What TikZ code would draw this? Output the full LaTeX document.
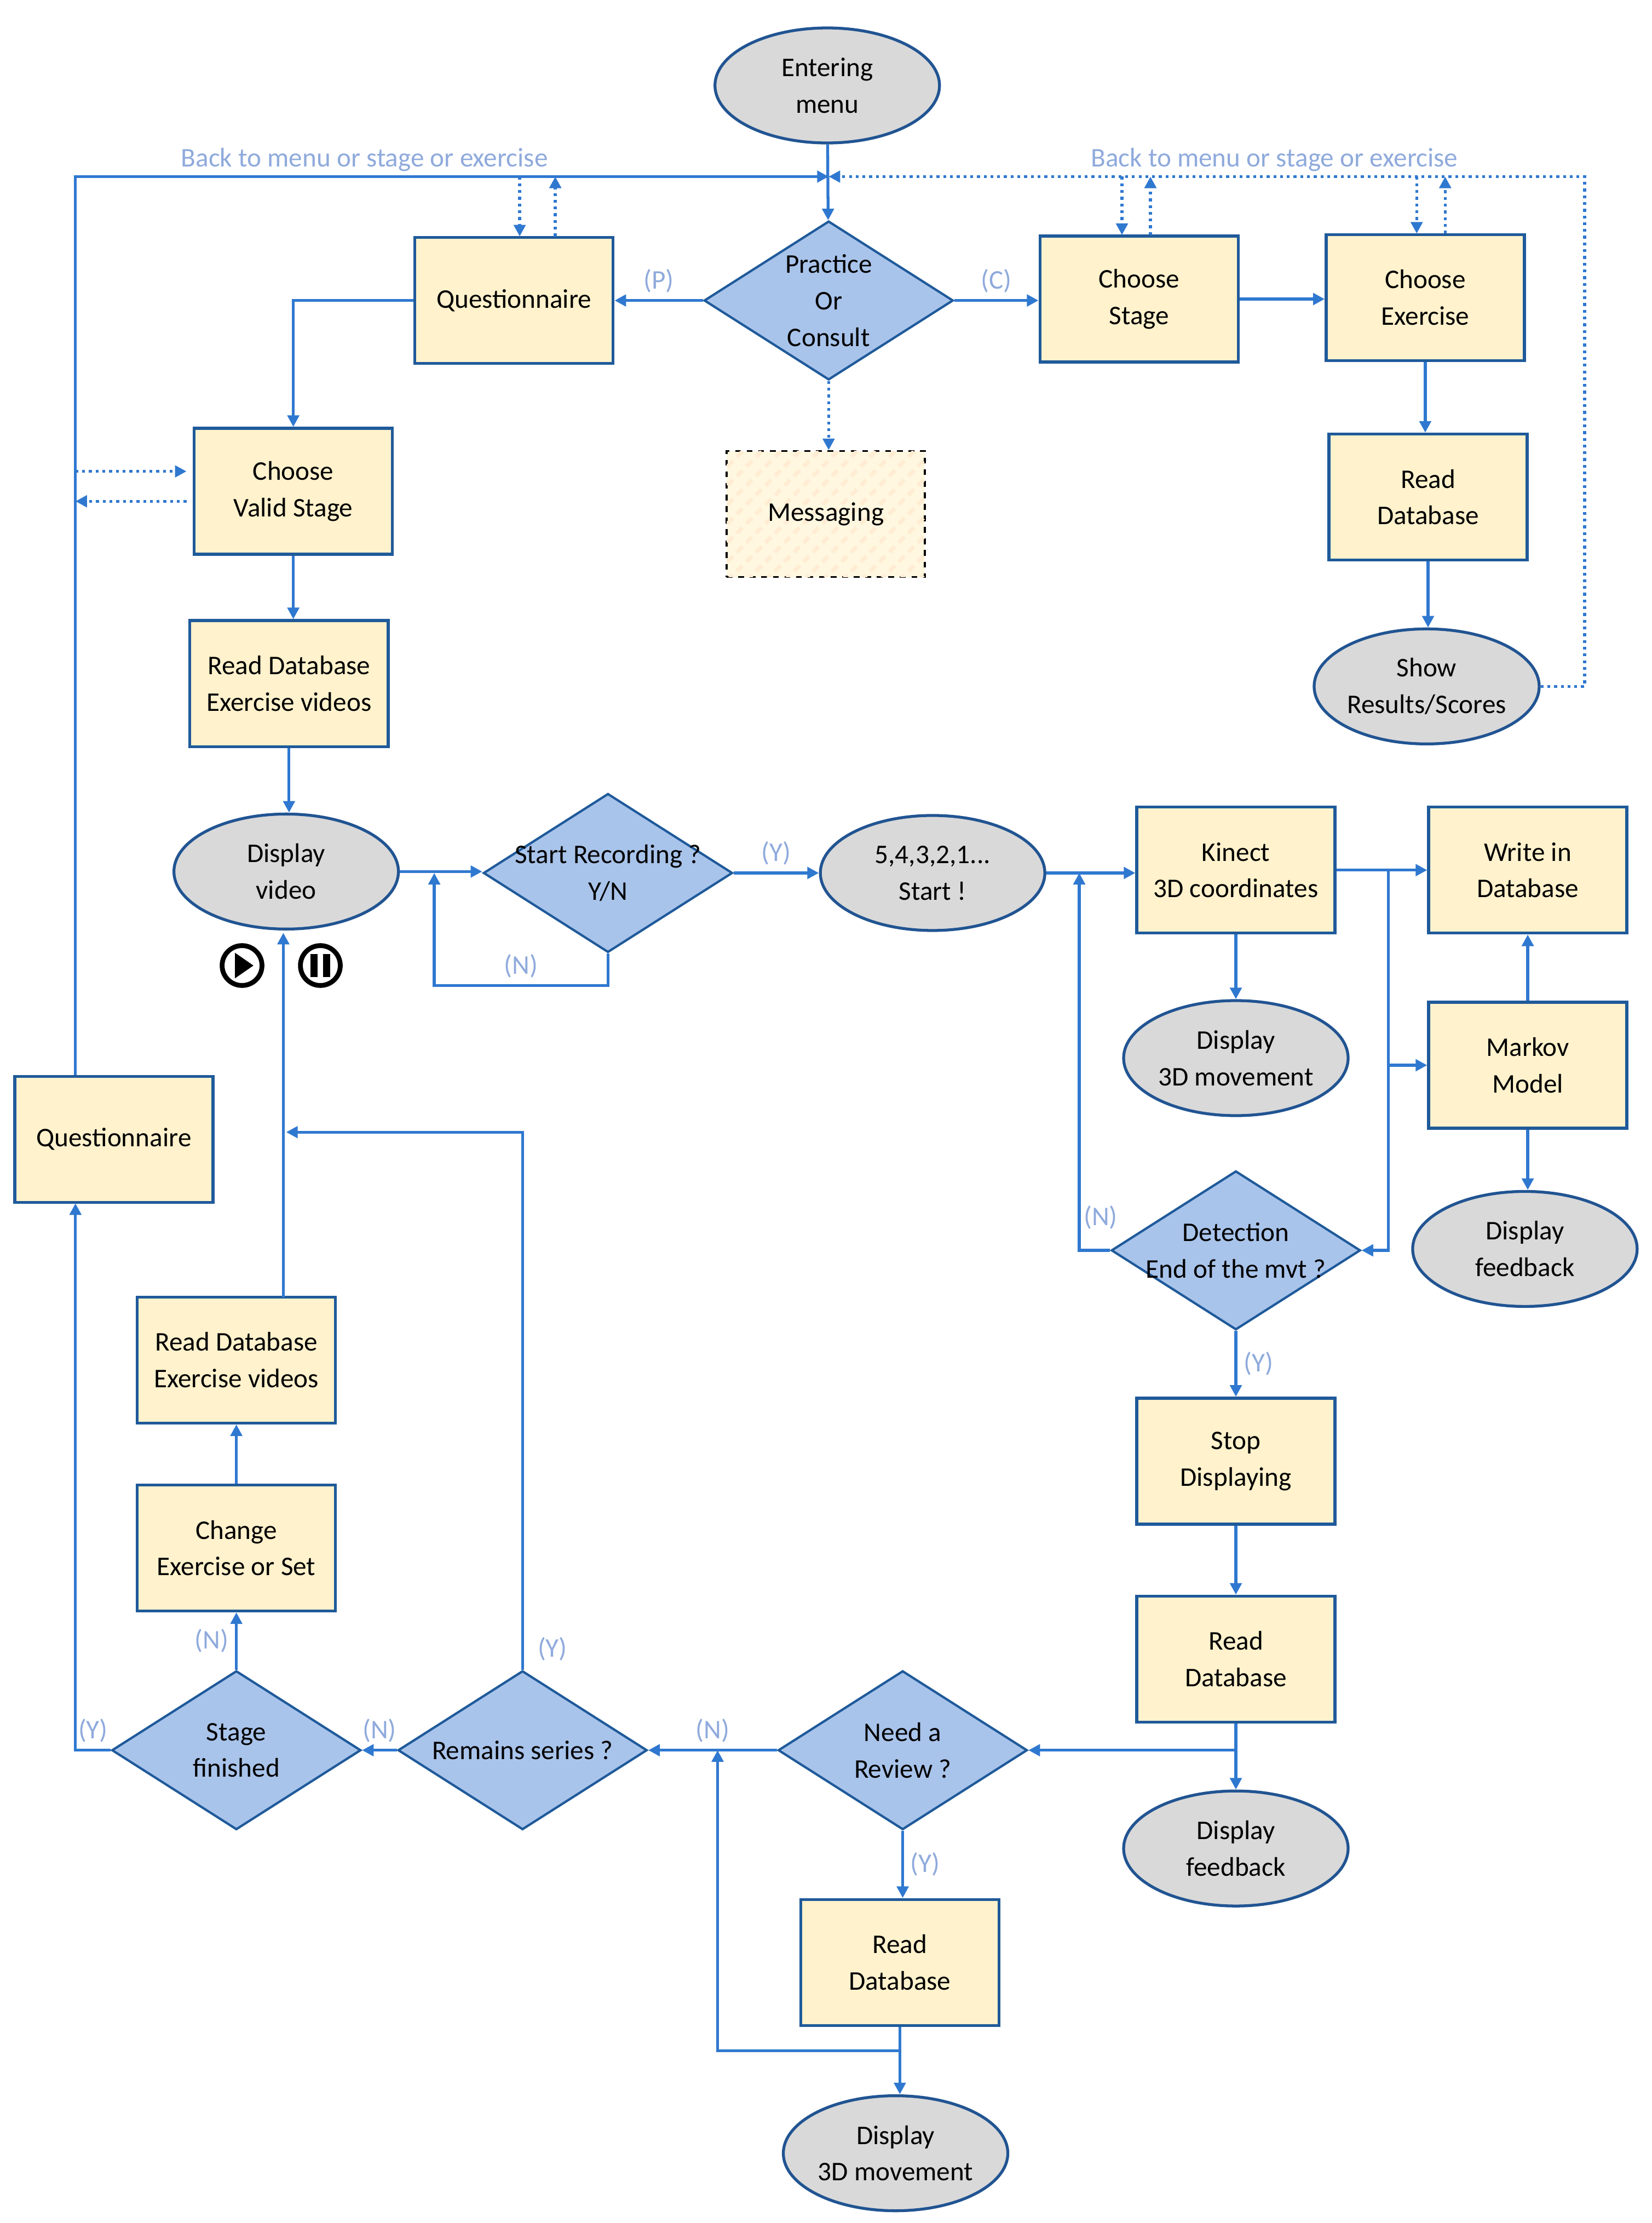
\documentclass[tikz,border=0pt]{standalone}
\usepackage{fontspec}
\setmainfont{Carlito}
\usetikzlibrary{shapes.geometric,arrows.meta,patterns.meta}
\definecolor{ln}{HTML}{2F78D0}
\definecolor{bx}{HTML}{FFF2CC}
\definecolor{bxb}{HTML}{1F5A9A}
\definecolor{dm}{HTML}{A9C4EB}
\definecolor{el}{HTML}{D9D9D9}
\definecolor{lb}{HTML}{8FAADC}
\begin{document}
\begin{tikzpicture}[x=0.026cm,y=-0.026cm,
  font=\fontsize{14}{19}\selectfont,
  box/.style={draw=bxb,fill=bx,line width=1.5pt,minimum width=3.62cm,minimum height=2.3cm,align=center,inner sep=2pt},
  ell/.style={ellipse,draw=ln!70!black,fill=el,line width=1.5pt,minimum width=4.1cm,minimum height=2.1cm,align=center,inner sep=0pt},
  dia/.style={diamond,draw=bxb,fill=dm,line width=1.2pt,minimum width=4.55cm,minimum height=2.9cm,inner sep=0pt},
  ln/.style={draw=ln,line width=1.5pt},
  ar/.style={ln,-{Triangle[width=6pt,length=6pt]}},
  dl/.style={ln,dotted,line width=1.5pt},
  da/.style={dl,-{Triangle[width=6pt,length=6pt]}},
  lab/.style={text=lb,font=\fontsize{14}{16}\selectfont},
  txt/.style={align=center}]
\useasboundingbox (0,0) rectangle (1160,1561);
% nodes
\node[ell] (em) at (581,60) {Entering\\menu};
\node[dia] (pc) at (582,211) {}; \node[txt] at (pc) {Practice\\Or\\Consult};
\node[box] (q1) at (361,211) {Questionnaire};
\node[box] (cs) at (800,210) {Choose\\Stage};
\node[box] (ce) at (1001,209) {Choose\\Exercise};
\node[box] (rd1) at (1003,349) {Read\\Database};
\node[ell] (sr) at (1002,482) {Show\\Results/Scores};
\node[box,dashed,draw=black,line width=1pt,fill=bx!60,postaction={pattern={Lines[angle=45,distance=7pt,line width=2pt]},pattern color=bx!70!orange!40}] (msg) at (580,361) {Messaging};
\node[box] (vs) at (206,345) {Choose\\Valid Stage};
\node[box] (re1) at (203,480) {Read Database\\Exercise videos};
\node[ell] (dv) at (201,612) {Display\\video};
\node[dia] (sr2) at (427,613) {}; \node[txt] at (sr2) {Start Recording ?\\Y/N};
\node[ell] (cd) at (655,613) {5,4,3,2,1...\\Start !};
\node[box] (kc) at (868,611) {Kinect\\3D coordinates};
\node[box] (wd) at (1073,611) {Write in\\Database};
\node[ell] (d3a) at (868,743) {Display\\3D movement};
\node[box] (mm) at (1073,748) {Markov\\Model};
\node[ell] (df1) at (1071,877) {Display\\feedback};
\node[dia] (dt) at (868,878) {}; \node[txt] at (dt) {Detection\\End of the mvt ?};
\node[box] (sd) at (868,1026) {Stop\\Displaying};
\node[box] (rd2) at (868,1165) {Read\\Database};
\node[ell] (df2) at (868,1298) {Display\\feedback};
\node[dia] (nr) at (634,1229) {}; \node[txt] at (nr) {Need a\\Review ?};
\node[box] (rd3) at (632,1378) {Read\\Database};
\node[ell] (d3b) at (629,1512) {Display\\3D movement};
\node[dia] (rs) at (367,1229) {}; \node[txt] at (rs) {Remains series ?};
\node[dia] (sf) at (166,1229) {}; \node[txt] at (sf) {Stage\\finished};
\node[box] (cx) at (166,1087) {Change\\Exercise or Set};
\node[box] (re2) at (166,955) {Read Database\\Exercise videos};
\node[box] (q2) at (80,800) {Questionnaire};
% play / pause icons
\draw[line width=2.5pt,fill=white] (170,678) circle (14);
\fill (165,669) -- (178,678) -- (165,687) -- cycle;
\draw[line width=2.5pt,fill=white] (225,678) circle (14);
\fill (218,670) rectangle (223,686); \fill (227,670) rectangle (232,686);
% coordinates
\coordinate (tl) at (53,124); \coordinate (tm) at (582,124); \coordinate (tr) at (1113,124);
% top loops
\draw[ar] (em) -- (pc);
\draw[ar] (53,755) -- (tl) -- (tm);
\draw[da] (sr.east) -- (1113,482) -- (tr) -- (tm);
\node[lab] at (256,112) {Back to menu or stage or exercise};
\node[lab] at (895,112) {Back to menu or stage or exercise};
\draw[da] (365,124) -- (365,166); \draw[da] (390,166) -- (390,124);
\draw[da] (788,124) -- (788,165); \draw[da] (808,165) -- (808,124);
\draw[da] (995,124) -- (995,164); \draw[da] (1015,164) -- (1015,124);
\draw[da] (53,331) -- (131,331); \draw[da] (131,352) -- (53,352);
% practice branches
\draw[ar] (pc.west) -- node[lab,above]{(P)} (q1.east);
\draw[ar] (pc.east) -- node[lab,above]{(C)} (pc.east-|cs.west);
\draw[da] (pc.south) -- (msg.north-|pc.south);
\draw[ar] (q1.west) -| (vs.north);
\draw[ar] (cs.east) -- (cs.east-|ce.west);
\draw[ar] (ce.south) -- (ce.south|-rd1.north);
\draw[ar] (rd1.south) -- (rd1.south|-sr.north);
\draw[ar] (vs.south) -- (vs.south|-re1.north);
\draw[ar] (re1.south) -- (re1.south|-dv.north);
% recording
\draw[ar] (dv.east) -- (dv.east-|sr2.west);
\draw[ar] (sr2.east) -- node[lab,above]{(Y)} (sr2.east-|cd.west);
\draw[ar] (sr2.south) -- (427,692) -- node[lab,above]{(N)} (305,692) -- (305,613);
\draw[ar] (cd.east) -- (cd.east-|kc.west);
\draw[ln] (kc.east) -- (975,611);
\draw[ar] (975,611) -- (wd.west|-975,611);
\draw[ar] (975,611) -- (975,878) -- (dt.east);
\draw[ar] (975,748) -- (mm.west);
\draw[ar] (mm) -- (wd);
\draw[ar] (mm.south) -- (mm.south|-df1.north);
\draw[ar] (kc) -- (d3a);
\draw[ar] (dt.west) -- (758,878) -- (758,613);
\node[lab] at (773,855) {(N)};
\draw[ar] (dt.south) -- node[lab,right]{(Y)} (sd.north);
\draw[ar] (sd) -- (rd2);
\draw[ar] (rd2) -- (df2);
\draw[ar] (rd2.south) -- (868,1229) -- (nr.east);
\draw[ar] (nr.south) -- node[lab,right]{(Y)} (nr.south|-rd3.north);
\draw[ar] (rd3.south) -- (rd3.south|-d3b.north);
\draw[ar] (632,1440) -- (504,1440) -- (504,1229);
\draw[ar] (nr.west) -- node[lab,above]{(N)} (rs.east);
\draw[ar] (rs.north) -- (367,795) -- (201,795);
\node[lab] at (388,1158) {(Y)};
\draw[ar] (rs.west) -- node[lab,above]{(N)} (sf.east);
\draw[ar] (sf.north) -- node[lab,left]{(N)} (cx.south);
\draw[ar] (cx) -- (re2);
\draw[ar] (199,911) -- (199,655);
\draw[ar] (sf.west) -- node[lab,above]{(Y)} (53,1229) -- (53,845);
\end{tikzpicture}
\end{document}
